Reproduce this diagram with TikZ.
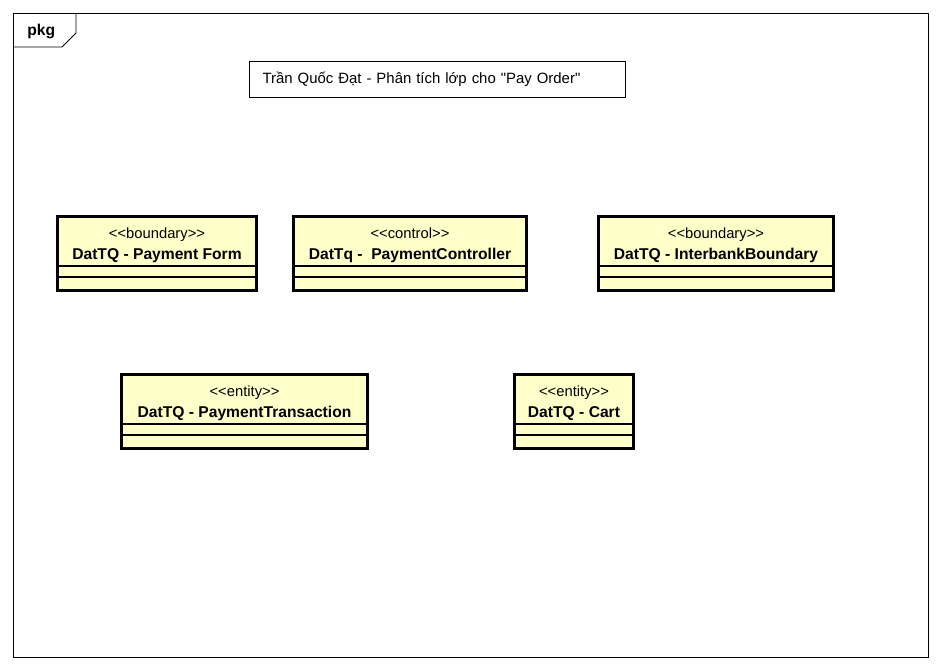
\documentclass[tikz,border=0pt]{standalone}
\usepackage{fontspec}
\newfontfamily\arial{Liberation Sans}
\usepackage{xcolor}
\usepackage{tikz}
\definecolor{classyellow}{RGB}{255,255,202}

\begin{document}
\begin{tikzpicture}[x=0.02cm,y=-0.02cm,
  frame/.style={draw,line width=0.5pt},
  classbox/.style={draw,line width=1.6pt,fill=classyellow,minimum height=1.48cm,inner sep=0pt},
  compart/.style={line width=0.6pt},
  stereo/.style={anchor=base,inner sep=0pt,font=\arial\fontsize{8.4}{10}\selectfont},
  cname/.style={anchor=base,inner sep=0pt,font=\arial\fontsize{8.9}{10}\selectfont\bfseries}]
\useasboundingbox (0,0) rectangle (941,670);
% package frame
\draw[frame] (13,13) rectangle (928,657);
\draw[frame] (13,47) -- (62,47) -- (76,33) -- (76,13);
\node[anchor=base west,inner sep=0pt,font=\arial\fontsize{8.9}{10}\selectfont\bfseries] (pkg) at (27,35) {pkg};
\node[frame,minimum width=7.52cm,minimum height=0.72cm,text width=7.0cm,align=left,inner xsep=0.26cm,
  font=\arial\fontsize{8.5}{10}\selectfont] (title) at (437.5,79) {Trần Quốc Đạt - Phân tích lớp cho "Pay Order"};

% classes
\node[classbox,minimum width=3.98cm] (form)  at (157,253.5) {};
\node[classbox,minimum width=4.66cm] (ctrl)  at (410,253.5) {};
\node[classbox,minimum width=4.70cm] (bank)  at (716,253.5) {};
\node[classbox,minimum width=4.92cm] (trans) at (244.5,411.5) {};
\node[classbox,minimum width=2.38cm] (cart)  at (574,411.5) {};

\node[stereo] (formS)  at (157,238.5) {<<boundary>>};
\node[cname]  (formN)  at (157,259) {DatTQ - Payment Form};
\node[stereo] (ctrlS)  at (410,238.5) {<<control>>};
\node[cname]  (ctrlN)  at (410,259) {DatTq - \ PaymentController};
\node[stereo] (bankS)  at (716,238.5) {<<boundary>>};
\node[cname]  (bankN)  at (716,259) {DatTQ - InterbankBoundary};
\node[stereo] (transS) at (244.5,396.5) {<<entity>>};
\node[cname]  (transN) at (244.5,417) {DatTQ - PaymentTransaction};
\node[stereo] (cartS)  at (574,396.5) {<<entity>>};
\node[cname]  (cartN)  at (574,417) {DatTQ - Cart};

% compartments
\draw[compart] (form.west |- 0,266) -- (form.east |- 0,266);
\draw[compart] (form.west |- 0,277) -- (form.east |- 0,277);
\draw[compart] (ctrl.west |- 0,266) -- (ctrl.east |- 0,266);
\draw[compart] (ctrl.west |- 0,277) -- (ctrl.east |- 0,277);
\draw[compart] (bank.west |- 0,266) -- (bank.east |- 0,266);
\draw[compart] (bank.west |- 0,277) -- (bank.east |- 0,277);
\draw[compart] (trans.west |- 0,424) -- (trans.east |- 0,424);
\draw[compart] (trans.west |- 0,435) -- (trans.east |- 0,435);
\draw[compart] (cart.west |- 0,424) -- (cart.east |- 0,424);
\draw[compart] (cart.west |- 0,435) -- (cart.east |- 0,435);
\end{tikzpicture}
\end{document}
